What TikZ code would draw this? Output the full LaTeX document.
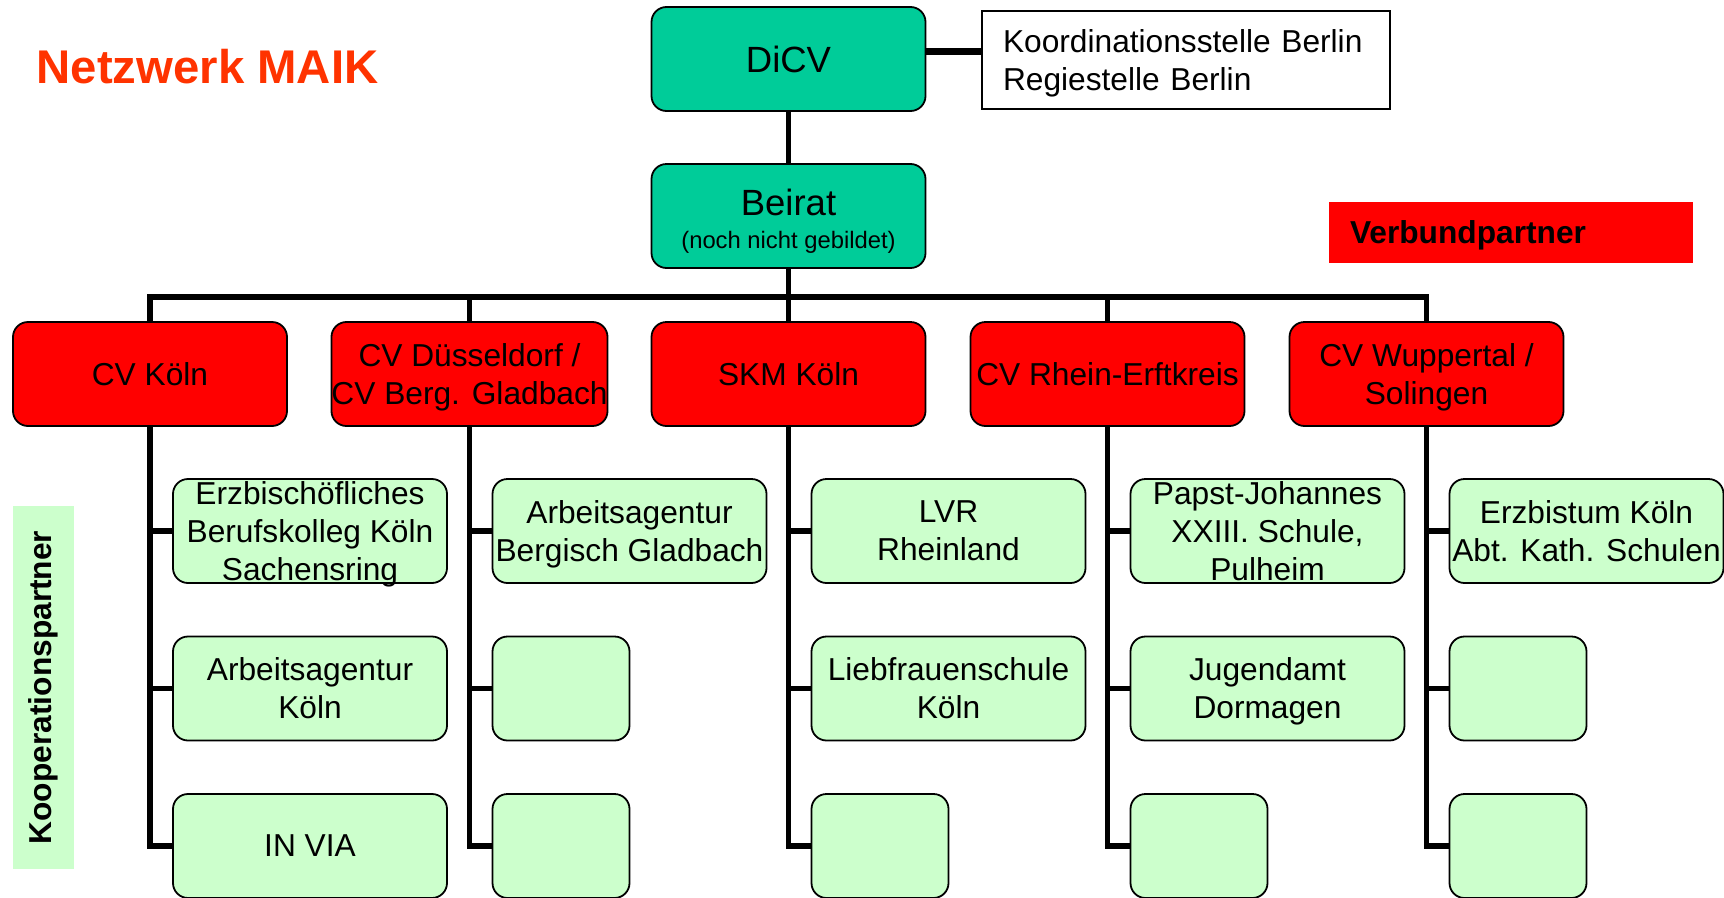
\documentclass[tikz,border=0pt]{standalone}
\usepackage{fontspec}
\setmainfont{Liberation Sans}
\usetikzlibrary{positioning}
\definecolor{dicvGreen}{RGB}{0,204,153}
\definecolor{verbRed}{RGB}{255,0,0}
\definecolor{koopGreen}{RGB}{204,255,204}
\definecolor{titleRed}{RGB}{255,51,0}
\newcommand{\bodyFont}{\fontsize{31.7}{38}\selectfont}
\newcommand{\bigFont}{\fontsize{36.5}{33}\selectfont}
\newcommand{\smallFont}{\fontsize{23.8}{33}\selectfont}
\tikzset{
	roundBox/.style={
		draw=black,
		line width=1.8pt,
		rounded corners=15pt,
		inner sep=0pt,
		align=center,
		text=black,
		text depth=0pt,
		font=\bodyFont
	},
	dicvNode/.style={
		roundBox,
		fill=dicvGreen,
		minimum width=274pt,
		minimum height=104pt
	},
	verbNode/.style={
		roundBox,
		fill=verbRed,
		minimum width=274pt,
		minimum height=104pt
	},
	koopNode/.style={
		roundBox,
		fill=koopGreen,
		minimum width=274pt,
		minimum height=104pt
	},
	koopSmallNode/.style={
		roundBox,
		fill=koopGreen,
		minimum width=137pt,
		minimum height=104pt
	},
	treeLine/.style={
		draw=black,
		line width=5.5pt
	},
}

\begin{document}
\begin{tikzpicture}[x=1pt, y=-1pt
    ,   plainBox/.style={draw=black, line width=1.8pt, fill=white, font=\bodyFont, text width=366pt, inner xsep=21pt, inner ysep=0pt, minimum height=98pt, text height=23.1pt, text depth=38pt, align=left}
    ,   labelBox/.style={font=\bodyFont\bfseries, inner ysep=0pt, align=left, text depth=0pt}
    ,   titleText/.style={font=\fontsize{47.3}{56}\selectfont\bfseries, text=titleRed, inner sep=0pt}]
\useasboundingbox (0,0) rectangle (1724,897);

\node[titleText, anchor=base west] (title) at (36.5,83.5){Netzwerk MAIK};

\node[dicvNode, font=\bigFont] (dicv) at (788.5,59){DiCV};
\node[plainBox] (koord) at (1186,60){Koordinationsstelle Berlin\\Regiestelle Berlin};
\node[dicvNode, font=\smallFont, text height=64pt] (beirat) at (788.5,216){{\bigFont Beirat}\\{(noch nicht gebildet)}};

\node[labelBox, fill=verbRed, minimum width=364pt, minimum height=61pt, text width=322pt, inner xsep=21pt] (verbund) at (1511,232.5){Verbundpartner};
\node[labelBox, fill=koopGreen, rotate=90, align=center, minimum width=363pt, minimum height=61pt, inner xsep=0pt, text depth=] (koop) at (43.5,687.5){Kooperationspartner};

\draw[line width=7pt] ([yshift=7.5pt]dicv.east) -- ([yshift=7.5pt]dicv.east -| koord.west);
\draw[treeLine] (dicv) -- (beirat);
\coordinate (busMid) at (788.5,297);
\draw[treeLine] (beirat) -- (busMid);

\begin{scope}[xshift=150pt]
    \node[verbNode] (P1) at (0,374){CV Köln};
    \node[koopNode] (K11) at (160,531){Erzbischöfliches\\Berufskolleg Köln\\Sachensring};
    \node[koopNode] (K12) at (160,688.5){Arbeitsagentur\\Köln};
    \node[koopNode] (K13) at (160,846){IN VIA};

    \draw[treeLine] (P1) |- (K11);
    \draw[treeLine] (P1) |- (K12);
    \draw[treeLine] (P1) |- (K13);
\end{scope}

\begin{scope}[xshift=469.5pt]
    \node[verbNode] (P2) at (0,374){CV Düsseldorf /\\CV Berg. Gladbach};
    \node[koopNode] (K21) at (160,531){Arbeitsagentur\\Bergisch Gladbach};
    \node[koopSmallNode] (K22) at (91.5,688.5){};
    \node[koopSmallNode] (K23) at (91.5,846){};

    \draw[treeLine] (P2) |- (K21);
    \draw[treeLine] (P2) |- (K22);
    \draw[treeLine] (P2) |- (K23);
\end{scope}

\begin{scope}[xshift=788.5pt]
    \node[verbNode] (P3) at (0,374){SKM Köln};
    \node[koopNode] (K31) at (160,531){LVR\\Rheinland};
    \node[koopNode] (K32) at (160,688.5){Liebfrauenschule\\Köln};
    \node[koopSmallNode] (K33) at (91.5,846){};

    \draw[treeLine] (P3) |- (K31);
    \draw[treeLine] (P3) |- (K32);
    \draw[treeLine] (P3) |- (K33);
\end{scope}

\begin{scope}[xshift=1107.5pt]
    \node[verbNode] (P4) at (0,374){CV Rhein-Erftkreis};
    \node[koopNode] (K41) at (160,531){Papst-Johannes\\XXIII. Schule,\\Pulheim};
    \node[koopNode] (K42) at (160,688.5){Jugendamt\\Dormagen};
    \node[koopSmallNode] (K43) at (91.5,846){};

    \draw[treeLine] (P4) |- (K41);
    \draw[treeLine] (P4) |- (K42);
    \draw[treeLine] (P4) |- (K43);
\end{scope}

\begin{scope}[xshift=1426.5pt]
    \node[verbNode] (P5) at (0,374){CV Wuppertal /\\Solingen};
    \node[koopNode] (K51) at (160,531){Erzbistum Köln\\Abt. Kath. Schulen};
    \node[koopSmallNode] (K52) at (91.5,688.5){};
    \node[koopSmallNode] (K53) at (91.5,846){};

    \draw[treeLine] (P5) |- (K51);
    \draw[treeLine] (P5) |- (K52);
    \draw[treeLine] (P5) |- (K53);
\end{scope}

% bus to the five partners
\draw[treeLine] (P1) |- (busMid) -| (P5);
\draw[treeLine] (busMid -| P2) -- (P2);
\draw[treeLine] (busMid) -- (P3);
\draw[treeLine] (busMid -| P4) -- (P4);

\end{tikzpicture}
\end{document}
